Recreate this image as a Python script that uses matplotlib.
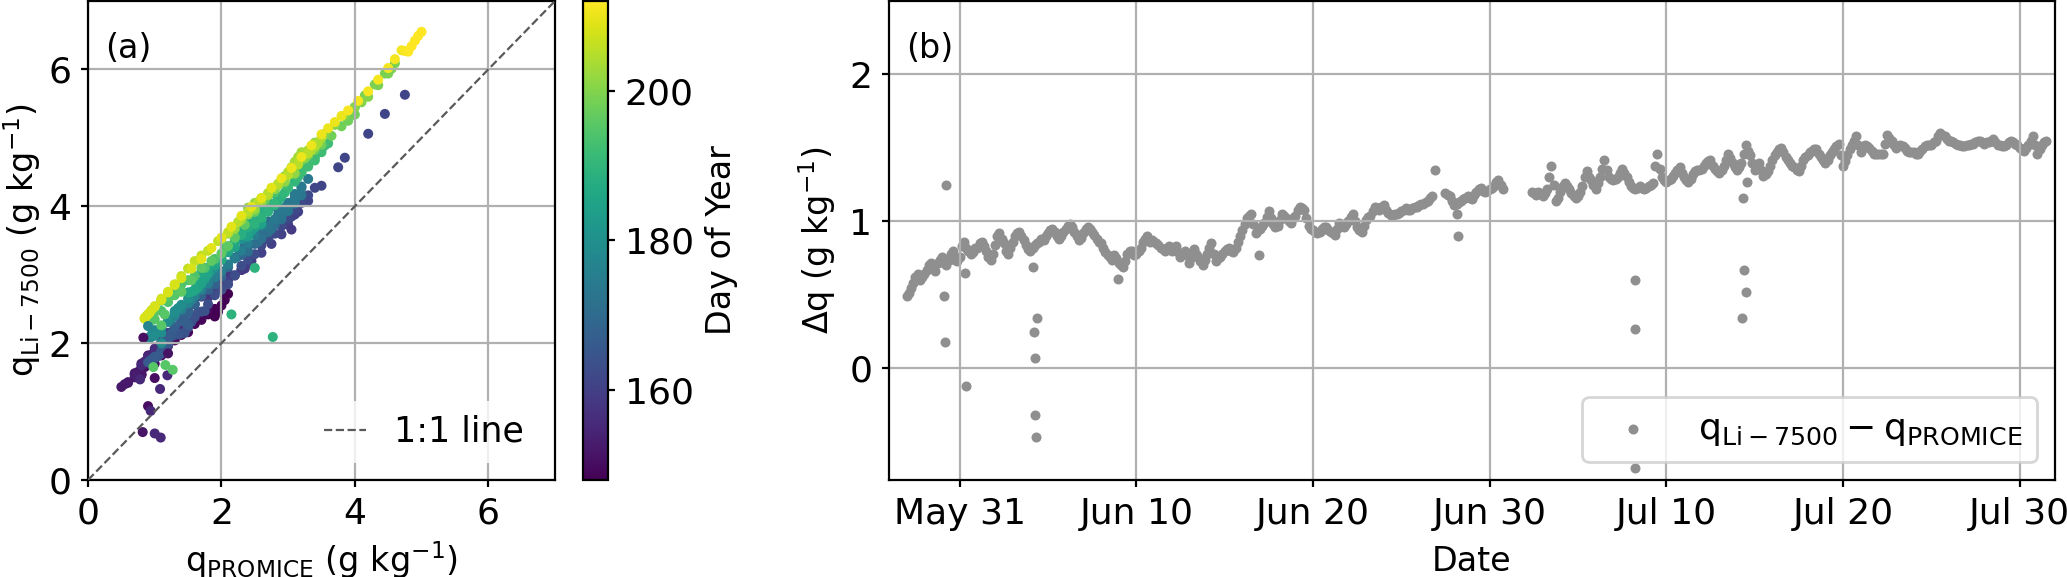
import numpy as np
import pandas as pd
import matplotlib
matplotlib.use('Agg')
import matplotlib.pyplot as plt
import matplotlib.dates as mdates

plt.rcParams['font.size'] = 12
plt.rcParams['xtick.labelsize'] = 13
plt.rcParams['ytick.labelsize'] = 13
plt.rcParams['mathtext.default'] = 'regular'
plt.rcParams['xtick.major.size'] = 2.5
plt.rcParams['ytick.major.size'] = 2.5

nan = np.nan

# 3-hourly samples starting 2019-05-28 00:00, one row per day
dq = [
    0.49, 0.51, 0.55, 0.58, 0.62, 0.64, 0.60, 0.62,  # May 28
    0.64, 0.67, 0.70, 0.72, 0.68, 0.66, 0.72, 0.74,
    0.76, 0.72, 0.70, 0.74, 0.78, 0.80, 0.74, 0.73,
    0.76, 0.83, 0.86, 0.82, 0.80, 0.78, 0.79, 0.82,  # May 31
    0.82, 0.85, 0.86, 0.83, 0.80, 0.76, 0.74, 0.78,  # Jun 1
    0.84, 0.90, 0.92, 0.88, 0.85, 0.80, 0.78, 0.82,
    0.86, 0.90, 0.92, 0.93, 0.90, 0.87, 0.84, 0.81,
    0.80, 0.82, 0.84, 0.85, 0.86, 0.88, 0.87, 0.90,
    0.92, 0.94, 0.95, 0.93, 0.90, 0.88, 0.90, 0.93,  # Jun 5
    0.95, 0.97, 0.98, 0.96, 0.93, 0.90, 0.87, 0.89,
    0.92, 0.95, 0.96, 0.95, 0.93, 0.91, 0.88, 0.86,
    0.85, 0.82, 0.79, 0.77, 0.76, 0.74, 0.77, 0.75,
    0.72, 0.70, 0.69, 0.73, 0.78, 0.80, 0.80, 0.77,
    0.78, 0.80, 0.82, 0.86, 0.88, 0.90, 0.86, 0.87,  # Jun 10
    0.86, 0.85, 0.84, 0.82, 0.81, 0.80, 0.82, 0.83,
    0.80, 0.82, 0.83, 0.79, 0.76, 0.78, 0.80, 0.77,
    0.72, 0.76, 0.81, 0.78, 0.76, 0.73, 0.70, 0.74,
    0.78, 0.82, 0.85, 0.78, 0.73, 0.75, 0.76, 0.78,
    0.80, 0.81, 0.82, 0.80, 0.79, 0.82, 0.86, 0.90,  # Jun 15
    0.94, 0.98, 1.02, 1.04, 1.05, 0.98, 0.92, 0.94,
    0.95, 0.97, 0.99, 1.03, 1.07, 1.02, 0.98, 0.96,
    0.97, 1.01, 1.05, 1.04, 1.02, 1.00, 0.99, 1.02,
    1.04, 1.08, 1.10, 1.09, 1.08, 1.02, 0.97, 0.95,
    0.94, 0.93, 0.92, 0.93, 0.95, 0.96, 0.96, 0.94,  # Jun 20
    0.93, 0.92, 0.91, 0.95, 0.99, 0.98, 0.96, 0.98,
    1.00, 1.03, 1.05, 1.00, 0.96, 0.94, 0.93, 0.97,
    1.01, 1.03, 1.04, 1.07, 1.10, 1.09, 1.08, 1.10,
    1.11, 1.08, 1.06, 1.05, 1.04, 1.05, 1.05, 1.06,
    1.07, 1.08, 1.09, 1.08, 1.08, 1.09, 1.10, 1.10,  # Jun 25
    1.11, 1.12, 1.12, 1.13, 1.14, 1.16, 1.17, nan,
    nan, nan, nan, nan, 1.19, 1.18, 1.17, 1.14,
    1.11, 1.12, 1.13, 1.14, 1.15, 1.16, 1.17, 1.16,
    1.15, 1.18, 1.20, 1.22, 1.23, 1.21, 1.20, 1.21,
    1.22, 1.23, 1.24, 1.27, 1.28, 1.25, 1.22, nan,  # Jun 30
    nan, nan, nan, nan, nan, nan, nan, nan,  # Jul 1
    nan, nan, nan, 1.20, 1.19, 1.18, 1.20, 1.19,
    1.17, 1.19, 1.22, 1.30, 1.38, 1.25, 1.14, 1.16,
    1.20, 1.24, 1.26, 1.24, 1.22, 1.19, 1.17, 1.16,
    1.17, 1.20, 1.24, 1.30, 1.34, 1.30, 1.28, 1.25,  # Jul 5
    1.22, 1.26, 1.30, 1.36, 1.42, 1.35, 1.30, 1.29,
    1.28, 1.29, 1.30, 1.33, 1.36, 1.33, 1.30, 1.27,
    1.24, 1.23, 1.22, 1.23, 1.24, 1.23, 1.22, 1.23,
    1.24, 1.25, 1.26, 1.38, 1.46, 1.36, 1.30, 1.28,
    1.27, 1.28, 1.29, 1.31, 1.33, 1.35, 1.37, 1.33,  # Jul 10
    1.30, 1.28, 1.27, 1.29, 1.32, 1.34, 1.35, 1.35,
    1.36, 1.38, 1.40, 1.41, 1.42, 1.38, 1.36, 1.34,
    1.33, 1.35, 1.38, 1.42, 1.46, 1.43, 1.40, 1.37,
    1.35, 1.37, 1.40, 1.46, 1.52, 1.48, 1.45, 1.40,
    1.35, 1.37, 1.40, 1.35, 1.31, 1.32, 1.34, 1.38,  # Jul 15
    1.42, 1.45, 1.47, 1.49, 1.50, 1.47, 1.44, 1.42,
    1.40, 1.38, 1.37, 1.35, 1.34, 1.38, 1.42, 1.44,
    1.45, 1.47, 1.48, 1.49, 1.49, 1.46, 1.44, 1.42,
    1.40, 1.42, 1.45, 1.47, 1.49, 1.51, 1.53, 1.45,
    1.38, 1.41, 1.45, 1.49, 1.52, 1.55, 1.58, 1.52,  # Jul 20
    1.47, 1.50, 1.52, 1.51, 1.50, 1.48, 1.46, 1.46,
    1.46, 1.46, 1.46, 1.53, 1.59, 1.57, 1.55, 1.52,
    1.50, 1.51, 1.52, 1.51, 1.50, 1.48, 1.47, 1.47,
    1.47, 1.46, 1.46, 1.48, 1.49, 1.51, 1.52, 1.52,
    1.52, 1.54, 1.55, 1.58, 1.60, 1.59, 1.58, 1.56,  # Jul 25
    1.55, 1.55, 1.54, 1.53, 1.52, 1.52, 1.51, 1.51,
    1.52, 1.52, 1.53, 1.53, 1.54, 1.55, 1.55, 1.54,
    1.53, 1.54, 1.54, 1.55, 1.56, 1.54, 1.52, 1.52,
    1.51, 1.51, 1.52, 1.54, 1.55, 1.54, 1.53, 1.52,
    1.50, 1.49, 1.48, 1.50, 1.52, 1.55, 1.58, 1.52,  # Jul 30
    1.46, 1.49, 1.52, 1.54, 1.55, nan, nan, nan,
]

# PROMICE specific humidity (g/kg) at the same times
q_promice = [
    1.90, 1.95, 2.00, 2.05, 2.10, 2.05, 1.90, 1.80,  # May 28
    1.70, 1.75, 1.80, 1.70, 1.60, 1.50, 1.40, 1.30,
    1.20, 1.10, 1.00, 0.95, 0.90, 0.85, 0.80, 0.80,
    0.80, 0.75, 0.70, 0.80, 0.90, 0.95, 1.00, 0.80,  # May 31
    0.60, 0.55, 0.50, 0.60, 0.70, 0.75, 0.80, 0.75,  # Jun 1
    0.70, 0.80, 0.90, 0.95, 1.00, 1.05, 1.10, 1.15,
    1.20, 1.25, 1.30, 1.20, 1.10, 1.05, 1.00, 1.00,
    1.00, 1.05, 1.10, 1.00, 0.90, 0.85, 0.80, 0.90,
    1.00, 1.10, 1.20, 1.30, 1.40, 1.35, 1.30, 1.40,  # Jun 5
    1.50, 1.60, 1.70, 1.80, 1.90, 1.85, 1.80, 1.85,
    1.90, 1.95, 2.00, 2.05, 2.10, 2.00, 1.95, 2.00,
    2.00, 2.10, 2.20, 2.30, 2.40, 2.35, 2.30, 2.45,
    2.60, 2.75, 2.90, 3.00, 3.10, 3.05, 3.00, 3.15,
    3.30, 3.50, 3.75, 4.20, 4.75, 4.45, 3.85, 3.40,  # Jun 10
    3.30, 3.20, 3.10, 3.00, 2.90, 2.80, 2.70, 2.60,
    2.50, 2.40, 2.30, 2.20, 2.10, 2.00, 1.90, 1.80,
    1.75, 1.70, 1.65, 1.60, 1.55, 1.50, 1.45, 1.40,
    1.35, 1.30, 1.25, 1.20, 1.15, 1.10, 1.05, 1.00,
    1.00, 0.95, 0.90, 1.00, 1.10, 1.15, 1.20, 1.25,  # Jun 15
    1.30, 1.40, 1.50, 1.55, 1.60, 1.50, 1.40, 1.45,
    1.50, 1.60, 1.70, 1.80, 1.90, 1.85, 1.80, 1.90,
    2.00, 2.10, 2.20, 2.30, 2.40, 2.35, 2.30, 2.25,
    2.20, 2.35, 2.50, 2.60, 2.70, 2.65, 2.60, 2.50,
    2.40, 2.55, 2.70, 2.80, 2.90, 2.85, 2.80, 2.70,  # Jun 20
    2.60, 2.75, 2.90, 3.00, 3.10, 3.00, 2.90, 2.80,
    2.70, 2.85, 3.00, 3.10, 3.20, 3.10, 3.00, 2.90,
    2.80, 2.95, 3.10, 3.20, 3.30, 3.20, 3.10, 2.85,
    2.60, 2.50, 2.40, 2.30, 2.20, 2.10, 2.00, 1.90,
    1.80, 1.70, 1.60, 1.55, 1.50, 1.40, 1.30, 1.25,  # Jun 25
    1.20, 1.10, 1.00, 0.98, 0.95, 0.92, 0.90, nan,
    nan, nan, nan, nan, 1.00, 0.98, 0.95, 0.98,
    1.00, 1.10, 1.20, 1.30, 1.40, 1.35, 1.30, 1.40,
    1.50, 1.60, 1.70, 1.80, 1.90, 1.85, 1.80, 1.90,
    2.00, 2.10, 2.20, 2.35, 2.50, 2.40, 2.30, nan,  # Jun 30
    nan, nan, nan, nan, nan, nan, nan, nan,  # Jul 1
    nan, nan, nan, 2.60, 2.60, 2.55, 2.50, 2.45,
    2.40, 2.50, 2.60, 2.70, 2.80, 2.70, 2.60, 2.40,
    2.20, 2.10, 2.00, 1.90, 1.80, 1.75, 1.70, 1.65,
    1.60, 1.55, 1.50, 1.60, 1.70, 1.80, 1.90, 1.95,  # Jul 5
    2.00, 2.10, 2.20, 2.30, 2.40, 2.35, 2.30, 2.30,
    2.30, 2.40, 2.50, 2.60, 2.70, 2.65, 2.60, 2.55,
    2.50, 2.60, 2.70, 2.80, 2.90, 2.85, 2.80, 2.80,
    2.80, 2.95, 3.10, 3.20, 3.30, 3.25, 3.20, 3.10,
    3.00, 3.15, 3.30, 3.40, 3.50, 3.45, 3.40, 3.30,  # Jul 10
    3.20, 3.30, 3.40, 3.50, 3.60, 3.55, 3.50, 3.30,
    3.10, 2.95, 2.80, 2.65, 2.50, 2.35, 2.20, 2.05,
    1.90, 1.75, 1.60, 1.50, 1.40, 1.30, 1.20, 1.10,
    1.00, 0.97, 0.95, 1.00, 1.10, 1.20, 1.25, 1.30,
    1.40, 1.55, 1.70, 1.85, 2.00, 2.10, 2.20, 2.35,  # Jul 15
    2.50, 2.65, 2.80, 2.95, 3.10, 3.20, 3.30, 3.40,
    3.50, 3.65, 3.80, 3.90, 4.00, 3.95, 3.90, 3.95,
    4.00, 4.15, 4.30, 4.45, 4.60, 4.55, 4.50, 4.35,
    4.20, 4.10, 4.00, 3.85, 3.70, 3.55, 3.40, 3.25,
    3.10, 2.95, 2.80, 2.70, 2.60, 2.50, 2.40, 2.30,  # Jul 20
    2.20, 2.10, 2.00, 2.15, 2.30, 2.40, 2.50, 2.60,
    2.70, 2.85, 3.00, 3.10, 3.20, 3.15, 3.10, 3.05,
    3.00, 3.15, 3.30, 3.40, 3.50, 3.45, 3.40, 3.35,
    3.30, 3.15, 3.00, 2.85, 2.70, 2.55, 2.40, 2.25,
    2.10, 1.95, 1.80, 1.70, 1.60, 1.50, 1.40, 1.30,  # Jul 25
    1.20, 1.10, 1.00, 0.95, 0.90, 0.88, 0.85, 0.85,
    0.85, 0.92, 1.00, 1.10, 1.20, 1.30, 1.40, 1.55,
    1.70, 1.85, 2.00, 2.15, 2.30, 2.45, 2.60, 2.75,
    2.90, 3.05, 3.20, 3.35, 3.50, 3.60, 3.70, 3.80,
    3.90, 4.05, 4.20, 4.35, 4.50, 4.60, 4.70, 4.75,  # Jul 30
    4.80, 4.85, 4.90, 4.95, 5.00, nan, nan, nan,
]

# isolated points away from the main band
out_time = [
    '2019-05-30 03:00', '2019-05-30 04:00', '2019-05-30 05:00',
    '2019-05-31 07:00', '2019-05-31 08:00',
    '2019-06-04 04:00', '2019-06-04 05:00', '2019-06-04 06:00',
    '2019-06-04 07:00', '2019-06-04 07:30', '2019-06-04 09:00',
    '2019-06-08 23:00', '2019-06-16 22:00', '2019-06-26 22:00',
    '2019-06-28 04:00', '2019-06-28 05:00',
    '2019-07-08 05:00', '2019-07-08 05:30', '2019-07-08 06:00',
    '2019-07-14 07:00', '2019-07-14 07:30', '2019-07-14 10:00',
    '2019-07-14 12:00', '2019-07-14 13:00',
]
out_dq = [
    0.49, 0.18, 1.25,
    0.65, -0.12,
    0.69, 0.25, 0.07,
    -0.32, -0.47, 0.34,
    0.61, 0.77, 1.35,
    1.05, 0.90,
    0.27, -0.68, 0.60,
    0.34, 1.16, 0.67,
    0.52, 1.27,
]
out_q = [
    1.00, 0.90, 0.83,
    1.20, 0.82,
    0.78, 1.08, 0.94,
    1.00, 1.09, 1.19,
    3.05, 1.50, 0.90,
    1.10, 1.10,
    2.15, 2.77, 2.50,
    1.27, 1.10, 0.98,
    1.16, 1.15,
]

tick_dates = ['2019-05-31', '2019-06-10', '2019-06-20', '2019-06-30',
              '2019-07-10', '2019-07-20', '2019-07-30']

times = pd.date_range('2019-05-28', periods=len(dq), freq='3h')
times = times.append(pd.DatetimeIndex(pd.to_datetime(out_time)))
dq_all = np.array(dq + out_dq)
qp_all = np.array(q_promice + out_q)
q_li = qp_all + dq_all
doy = np.asarray(times.dayofyear)

fig = plt.figure(figsize=(10.335, 2.885), dpi=200)
ax1 = fig.add_axes([0.04257, 0.16811, 0.22593, 0.83016])
cax = fig.add_axes([0.28205, 0.16811, 0.012095, 0.83016])
ax2 = fig.add_axes([0.43009, 0.16811, 0.56410, 0.83016])

# (a) scatter coloured by day of year
sc = ax1.scatter(qp_all, q_li, c=doy, cmap='viridis', s=13, linewidths=0)
ax1.plot([0, 7], [0, 7], ls='--', color='0.35', lw=0.8, label='1:1 line', zorder=3)
ax1.set_xlim(0, 7)
ax1.set_ylim(0, 7)
ax1.set_xticks([0, 2, 4, 6])
ax1.set_yticks([0, 2, 4, 6])
ax1.grid(True)
ax1.set_xlabel('$q_{PROMICE}$ (g kg$^{-1}$)', labelpad=3)
ax1.set_ylabel('$q_{Li-7500}$ (g kg$^{-1}$)', labelpad=2)
ax1.legend(loc='lower right', handlelength=1.2, edgecolor='none', fontsize=12.5)
ax1.annotate('(a)', xy=(0, 1), xycoords='axes fraction', xytext=(6, -11),
             textcoords='offset points', ha='left', va='top')

cb = fig.colorbar(sc, cax=cax)
cb.set_ticks([160, 180, 200])
cb.set_label('Day of Year')

# (b) difference time series
ax2.scatter(times, dq_all, s=13, color='#8f8f8f', linewidths=0,
            label='$q_{Li-7500} - q_{PROMICE}$')
ax2.set_xlim(pd.Timestamp('2019-05-27'), pd.Timestamp('2019-08-01'))
ax2.set_ylim(-0.76, 2.5)
ax2.set_yticks([0, 1, 2])
ax2.set_xticks(pd.to_datetime(tick_dates))
ax2.xaxis.set_major_formatter(mdates.DateFormatter('%b %d'))
ax2.grid(True)
ax2.set_xlabel('Date', labelpad=5)
ax2.set_ylabel(r'$\Delta q$ (g kg$^{-1}$)')
ax2.legend(loc='lower right', fontsize=13)
ax2.annotate('(b)', xy=(0, 1), xycoords='axes fraction', xytext=(6, -11),
             textcoords='offset points', ha='left', va='top')

fig.savefig('out.png', dpi=200)
